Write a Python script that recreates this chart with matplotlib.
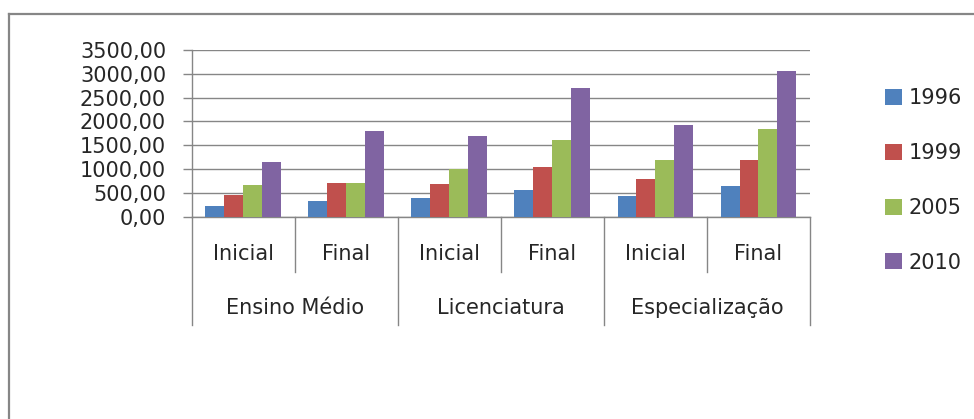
import numpy as np
import matplotlib
matplotlib.use("Agg")
import matplotlib.pyplot as plt
from matplotlib.lines import Line2D
from matplotlib.ticker import FuncFormatter, MultipleLocator

# dados: salario por nivel de formacao (inicial / final de carreira)
grupos = ["Ensino Médio", "Licenciatura", "Especialização"]
etapas = ["Inicial", "Final"]
anos = ["1996", "1999", "2005", "2010"]

v1996 = [231, 322, 397, 564, 432, 655]
v1999 = [448, 714, 697, 1045, 787, 1185]
v2005 = [665, 714, 996, 1616, 1185, 1833]
v2010 = [1155, 1806, 1700, 2710, 1916, 3058]

series = [v1996, v1999, v2005, v2010]
cores = ["#4F81BD", "#C0504D", "#9BBB59", "#8064A2"]

GRID = "#868686"
TXT = "#262626"
FS = 15

plt.rcParams["font.family"] = ["DejaVu Sans"]

W, H = 974, 419
fig = plt.figure(figsize=(W / 100, H / 100), dpi=100)

# area do grafico em pixels (x0, y_topo, x1, y_base)
px0, py_top, px1, py_base = 191.7, 50.0, 810.0, 216.7
ax = fig.add_axes([px0 / W, 1 - py_base / H, (px1 - px0) / W, (py_base - py_top) / H])

n = len(v1996)
x = np.arange(n)
larg = 0.184
for i, (vals, cor) in enumerate(zip(series, cores)):
    ax.bar(x + (i - 1.5) * larg, vals, width=larg, color=cor, label=anos[i], zorder=3)

ax.set_xlim(-0.5, n - 0.5)
ax.set_ylim(0, 3500)
ax.yaxis.set_major_locator(MultipleLocator(500))
ax.yaxis.set_major_formatter(FuncFormatter(lambda v, p: f"{v:.2f}".replace(".", ",")))
ax.grid(axis="y", color=GRID, linewidth=1.0, zorder=0)
ax.tick_params(axis="y", length=6.5, width=1.0, color=GRID, labelsize=FS,
               labelcolor=TXT, pad=12)
ax.set_xticks([])

for s in ["top", "right"]:
    ax.spines[s].set_visible(False)
for s in ["left", "bottom"]:
    ax.spines[s].set_color(GRID)
    ax.spines[s].set_linewidth(1.0)

# eixo x em dois niveis (etapa / formacao)
alt = py_base - py_top
def ay(py):
    return (py_base - py) / alt

trans = ax.get_xaxis_transform()
for k in range(n):
    ax.text(k, ay(254), etapas[k % 2], transform=trans, ha="center", va="center",
            fontsize=FS, color=TXT)
for g, nome in enumerate(grupos):
    ax.text(2 * g + 0.5, ay(308), nome, transform=trans, ha="center", va="center",
            fontsize=FS, color=TXT)

for xd in [0.5, 2.5, 4.5]:
    ax.add_line(Line2D([xd, xd], [0, ay(271.7)], transform=trans, color=GRID,
                       linewidth=1.0, clip_on=False))
for xd in [-0.5, 1.5, 3.5, 5.5]:
    ax.add_line(Line2D([xd, xd], [0, ay(325)], transform=trans, color=GRID,
                       linewidth=1.0, clip_on=False))

# legenda
fig.legend(loc="center left", bbox_to_anchor=(885 / W, 1 - 180.5 / H), frameon=False,
           fontsize=FS, handlelength=0.8, handleheight=0.8, handletextpad=0.35,
           labelspacing=1.67, borderpad=0, borderaxespad=0, labelcolor=TXT)

# moldura da area do grafico
fig.add_artist(Line2D([9 / W, 1], [1 - 14 / H, 1 - 14 / H], color=GRID, linewidth=1.6))
fig.add_artist(Line2D([9 / W, 9 / W], [0, 1 - 14 / H], color=GRID, linewidth=1.6))

fig.savefig("out.png", dpi=100, facecolor="white")
